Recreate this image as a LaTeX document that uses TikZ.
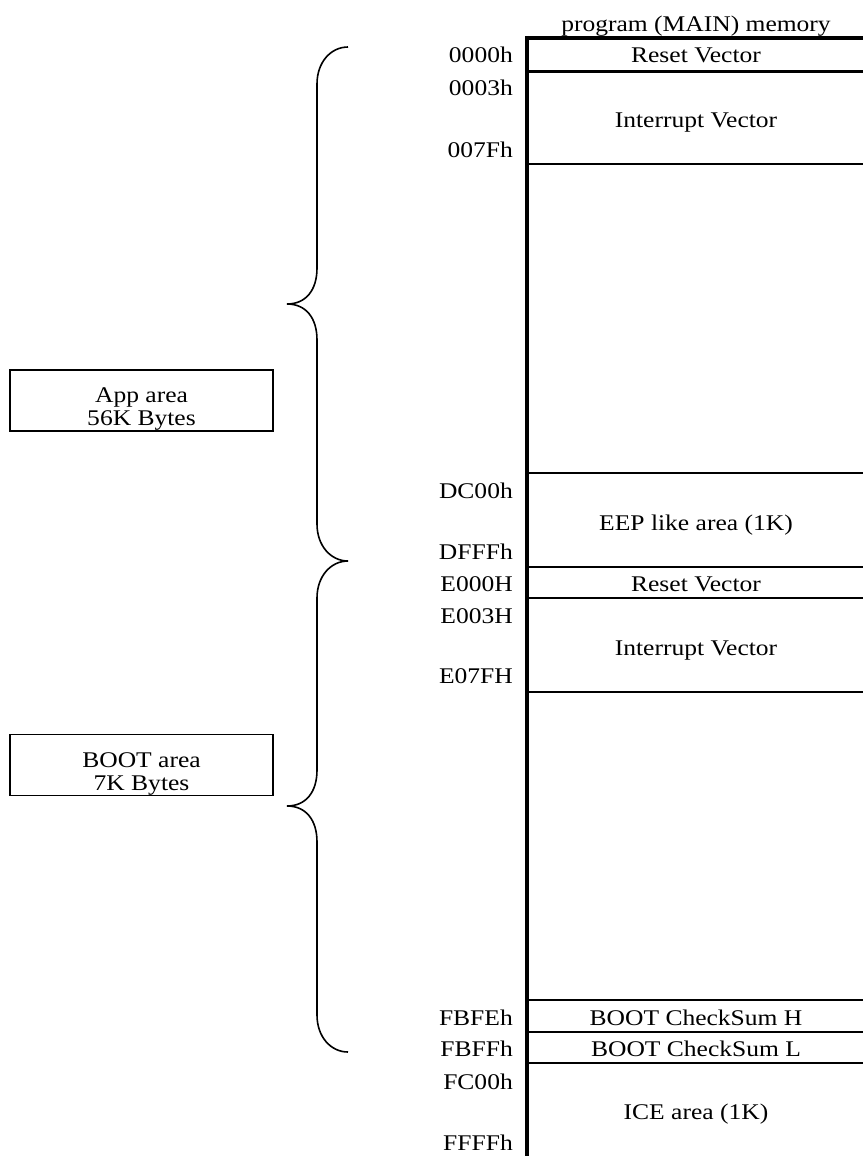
\documentclass[tikz,border=0pt]{standalone}
\usepackage{fontspec}
\setmainfont[FakeStretch=1.14]{Liberation Serif}
\newcommand{\memfont}{\fontsize{22.4}{23}\selectfont}
\begin{document}
\begin{tikzpicture}[x=1pt,y=-1pt,
  addr/.style={anchor=base east, inner sep=0pt, font=\memfont},
  cell/.style={anchor=base, inner sep=0pt, font=\memfont},
  sep/.style={line width=2.4pt},
  edge/.style={line width=4.2pt},
  brace/.style={line width=1.6pt},
  areabox/.style={draw, line width=1.3pt, minimum width=263pt, minimum height=61pt, inner sep=0pt},
  boxtext/.style={align=center, inner sep=0pt, font=\memfont}]
\useasboundingbox (0,0) rectangle (862,1156);

% memory column
\coordinate (mtl) at (527,38);
\coordinate (mtr) at (864,38);
\coordinate (mbl) at (527,1160);
\draw[edge] (527,36) -- (mbl);
\draw[edge] (mtl) -- (mtr);
\foreach \y/\n in {71.5/a,164/b,473/c,567/d,598/e,692/f,1000/g,1032/h,1063/i}{
  \coordinate (l\n) at (527,\y);
  \coordinate (r\n) at (864,\y);
  \draw[sep] (l\n) -- (r\n);
}

\node[cell] (title) at (696,32) {program (MAIN) memory};
\node[cell] (rv1) at (696,63) {Reset Vector};
\node[cell] (iv1) at (696,127) {Interrupt Vector};
\node[cell] (eep) at (696,530) {EEP like area (1K)};
\node[cell] (rv2) at (696,591) {Reset Vector};
\node[cell] (iv2) at (696,655) {Interrupt Vector};
\node[cell] (csh) at (696,1025) {BOOT CheckSum H};
\node[cell] (csl) at (696,1056) {BOOT CheckSum L};
\node[cell] (ice) at (696,1119) {ICE area (1K)};

\node[addr] (a1) at (513,63) {0000h};
\node[addr] (a2) at (513,95) {0003h};
\node[addr] (a3) at (513,157) {007Fh};
\node[addr] (a4) at (513,498) {DC00h};
\node[addr] (a5) at (513,559) {DFFFh};
\node[addr] (a6) at (513,591) {E000H};
\node[addr] (a7) at (513,623) {E003H};
\node[addr] (a8) at (513,683) {E07FH};
\node[addr] (a9) at (513,1025) {FBFEh};
\node[addr] (a10) at (513,1056) {FBFFh};
\node[addr] (a11) at (513,1089) {FC00h};
\node[addr] (a12) at (513,1150) {FFFFh};

% area boxes
\node[areabox] (app) at (141.5,400.5) {};
\node[boxtext] (apptext) at (141.5,409.5) {App area\\56K Bytes};
\node[areabox] (boot) at (141.5,765) {};
\node[boxtext] (boottext) at (141.5,774) {BOOT area\\7K Bytes};

% braces
\draw[brace] (348,47) .. controls (331,47) and (317,62) .. (317,84) -- (317,268)
  .. controls (317,290) and (306,304) .. (287,304)
  .. controls (306,304) and (317,318) .. (317,340) -- (317,524)
  .. controls (317,546) and (331,561) .. (348,561);
\draw[brace] (348,561) .. controls (331,561) and (317,576) .. (317,598) -- (317,770)
  .. controls (317,792) and (306,806) .. (287,806)
  .. controls (306,806) and (317,820) .. (317,842) -- (317,1015)
  .. controls (317,1037) and (331,1052) .. (348,1052);
\end{tikzpicture}
\end{document}
